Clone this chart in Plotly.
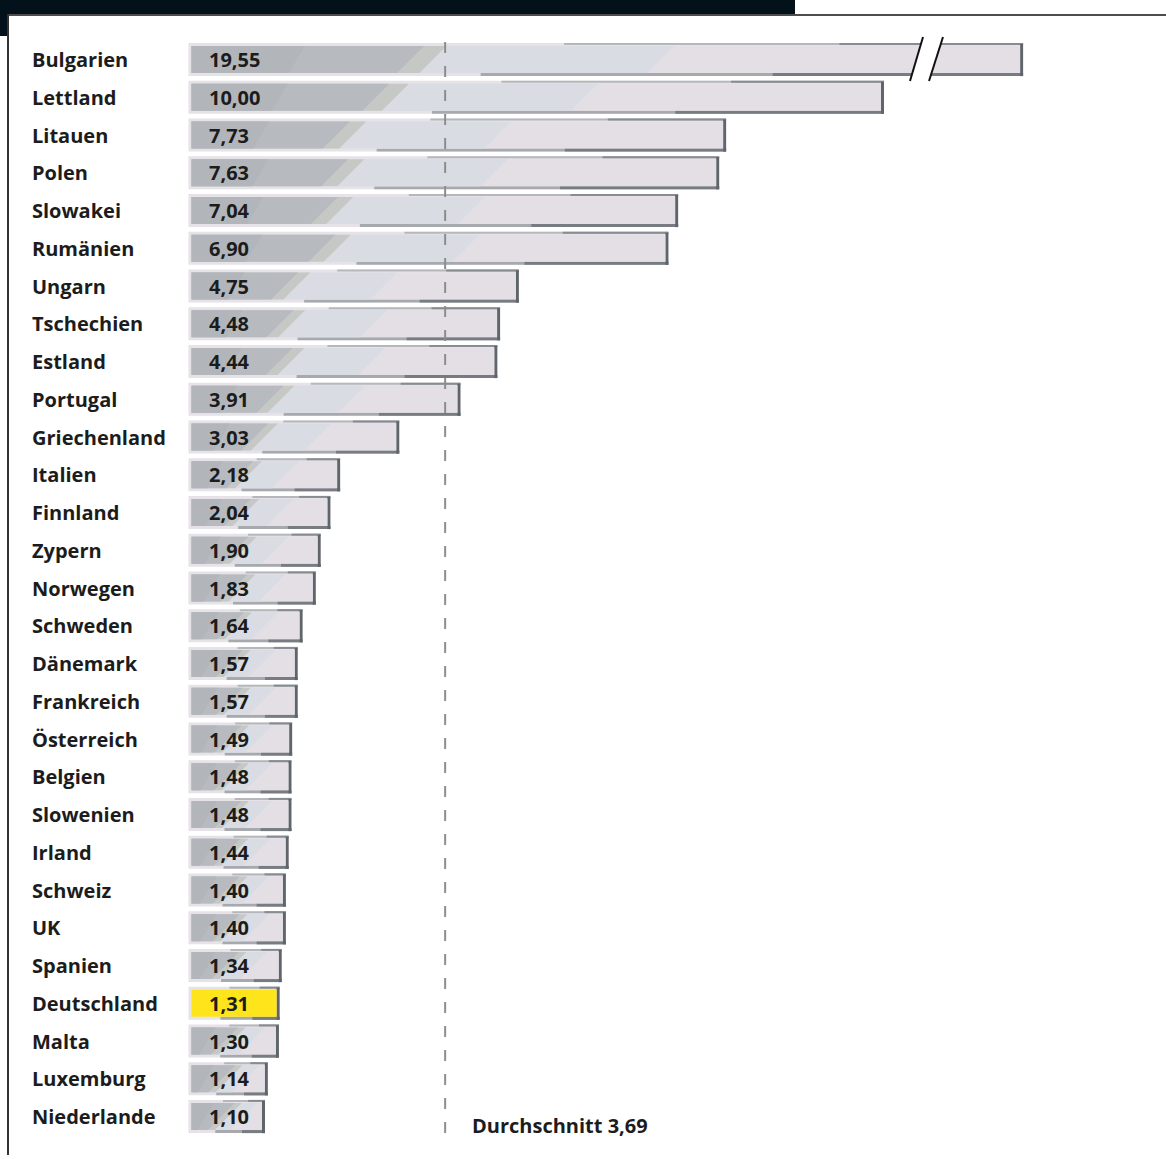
import plotly.graph_objects as go

# ---- data -------------------------------------------------------------
countries = [
    "Bulgarien", "Lettland", "Litauen", "Polen", "Slowakei", "Rumänien",
    "Ungarn", "Tschechien", "Estland", "Portugal", "Griechenland", "Italien",
    "Finnland", "Zypern", "Norwegen", "Schweden", "Dänemark", "Frankreich",
    "Österreich", "Belgien", "Slowenien", "Irland", "Schweiz", "UK",
    "Spanien", "Deutschland", "Malta", "Luxemburg", "Niederlande",
]
values = [
    19.55, 10.00, 7.73, 7.63, 7.04, 6.90, 4.75, 4.48, 4.44, 3.91, 3.03, 2.18,
    2.04, 1.90, 1.83, 1.64, 1.57, 1.57, 1.49, 1.48, 1.48, 1.44, 1.40, 1.40,
    1.34, 1.31, 1.30, 1.14, 1.10,
]
average = 3.69
average_label = "Durchschnitt 3,69"
highlight = "Deutschland"
axis_cap = 12.0  # longer bars are cut here and marked with an axis break

value_labels = [f"{v:.2f}".replace(".", ",") for v in values]
shown = [min(v, axis_cap) for v in values]
rows = list(range(len(countries)))

# ---- canvas geometry ---------------------------------------------------
W, H = 1166, 1159
PX_PER_UNIT = 69.55   # horizontal pixels per value unit
PX_PER_ROW = 37.75    # vertical pixels per bar row
ZERO_PX = 188.5       # x pixel of value 0
FIRST_ROW_PX = 59.5   # y pixel of first row centre

x_range = [-ZERO_PX / PX_PER_UNIT, (W - ZERO_PX) / PX_PER_UNIT]
y_range = [(H - FIRST_ROW_PX) / PX_PER_ROW, -FIRST_ROW_PX / PX_PER_ROW]


def ux(px):
    """pixel offset -> value units"""
    return px / PX_PER_UNIT


def uy(px):
    """pixel offset -> row units"""
    return px / PX_PER_ROW


def xdata(px):
    return (px - ZERO_PX) / PX_PER_UNIT


def ydata(py):
    return (py - FIRST_ROW_PX) / PX_PER_ROW


FONT = "Open Sans"
TEXT = "#1c1c1c"

fig = go.Figure()

# base bars (outer light frame)
fig.add_trace(go.Bar(
    x=shown, y=rows, orientation="h", width=0.88,
    marker=dict(color="#e6e2e8", line=dict(width=0)),
    hoverinfo="skip",
))

shapes = []


def rect(x0, x1, y0, y1, color, layer="above"):
    shapes.append(dict(type="rect", xref="x", yref="y", x0=x0, x1=x1,
                       y0=y0, y1=y1, fillcolor=color,
                       line=dict(width=0), layer=layer))


def slanted(x_left, x_bottom, slant, y_top, y_bot, x_max, color):
    x_top = min(x_bottom + slant, x_max)
    x_bottom = min(x_bottom, x_max)
    path = (f"M {x_left},{y_bot} L {x_bottom},{y_bot} "
            f"L {x_top},{y_top} L {x_left},{y_top} Z")
    shapes.append(dict(type="path", xref="x", yref="y", path=path,
                       fillcolor=color, line=dict(width=0), layer="above"))


HALF = 0.44
FACE = 0.36
bx = ux(3)
slant = ux(27)

for i, (name, v) in enumerate(zip(countries, shown)):
    # bevelled frame: darker on the right and lower edge
    rect(0.45 * v, v, i - HALF, i - HALF + uy(2), "#b4b8bc")
    rect(0.78 * v, v, i - HALF, i - HALF + uy(2), "#868c91")
    rect(0.35 * v, v, i + HALF - uy(3), i + HALF, "#a6aaae")
    rect(0.70 * v, v, i + HALF - uy(3), i + HALF, "#767c81")
    rect(v - ux(3), v, i - HALF + uy(1), i + HALF, "#5f666b")

    fx0, fx1 = bx, v - bx
    yt, yb = i - FACE, i + FACE
    if name == highlight:
        rect(fx0, fx1, yt, yb, "#fde41b")
        continue
    rect(fx0, fx1, yt, yb, "#e3dfe5")
    slanted(fx0, 0.55 * v, slant, yt, yb, fx1, "#d9dde3")
    slanted(fx0, 0.27 * v + 0.08, slant, yt, yb, fx1, "#c6c8c5")
    slanted(fx0, 0.25 * v, slant, yt, yb, fx1, "#b7bbc0")
    slanted(fx0, 0.12 * v, slant * 0.6, yt, yb, fx1, "#b2b6bb")

# average line
shapes.append(dict(type="line", xref="x", yref="y", x0=average, x1=average,
                   y0=ydata(42), y1=ydata(1134),
                   line=dict(color="#8d8d8d", width=2, dash="11px,13px"),
                   layer="above"))

# axis break on the capped bar
for i, v in enumerate(values):
    if v > axis_cap:
        yt, yb = ydata(37), ydata(81)
        shapes.append(dict(type="path", xref="x", yref="y",
                           path=(f"M {xdata(923)},{yt} L {xdata(910)},{yb} "
                                 f"L {xdata(929)},{yb} L {xdata(943)},{yt} Z"),
                           fillcolor="white", line=dict(width=0),
                           layer="above"))
        for xa, xb in ((923, 910), (943, 929)):
            shapes.append(dict(type="line", xref="x", yref="y",
                               x0=xdata(xa), y0=yt, x1=xdata(xb), y1=yb,
                               line=dict(color="#111111", width=2),
                               layer="above"))


# page header band and frame lines (paper coordinates)
def px(xp):
    return xp / W


def py(yp):
    return 1 - yp / H


shapes += [
    dict(type="rect", xref="paper", yref="paper", x0=px(0), x1=px(795),
         y0=py(14), y1=py(0), fillcolor="#03111a", line=dict(width=0)),
    dict(type="rect", xref="paper", yref="paper", x0=px(0), x1=px(7),
         y0=py(36), y1=py(0), fillcolor="#03111a", line=dict(width=0)),
    dict(type="line", xref="paper", yref="paper", x0=px(7), x1=px(W),
         y0=py(15), y1=py(15), line=dict(color="#4d4d4d", width=2)),
    dict(type="line", xref="paper", yref="paper", x0=px(8), x1=px(8),
         y0=py(14), y1=py(1155), line=dict(color="#333333", width=2)),
]

annotations = []
for i, (name, lab) in enumerate(zip(countries, value_labels)):
    annotations.append(dict(
        x=xdata(30), y=i, xref="x", yref="y", text=name, showarrow=False,
        xanchor="left", yanchor="middle",
        font=dict(family=FONT, size=20, color=TEXT, weight=700)))
    annotations.append(dict(
        x=xdata(207), y=i, xref="x", yref="y", text=lab, showarrow=False,
        xanchor="left", yanchor="middle",
        font=dict(family=FONT, size=20, color=TEXT, weight=700)))

annotations.append(dict(
    x=xdata(470), y=ydata(1125), xref="x", yref="y", text=average_label,
    showarrow=False, xanchor="left", yanchor="middle",
    font=dict(family=FONT, size=20, color=TEXT, weight=700)))

fig.update_layout(
    width=W, height=H,
    margin=dict(l=0, r=0, t=0, b=0, pad=0),
    paper_bgcolor="white", plot_bgcolor="white",
    showlegend=False, barmode="overlay",
    xaxis=dict(range=x_range, visible=False, fixedrange=True),
    yaxis=dict(range=y_range, visible=False, fixedrange=True),
    shapes=shapes, annotations=annotations,
)

fig.write_html("out.html")
